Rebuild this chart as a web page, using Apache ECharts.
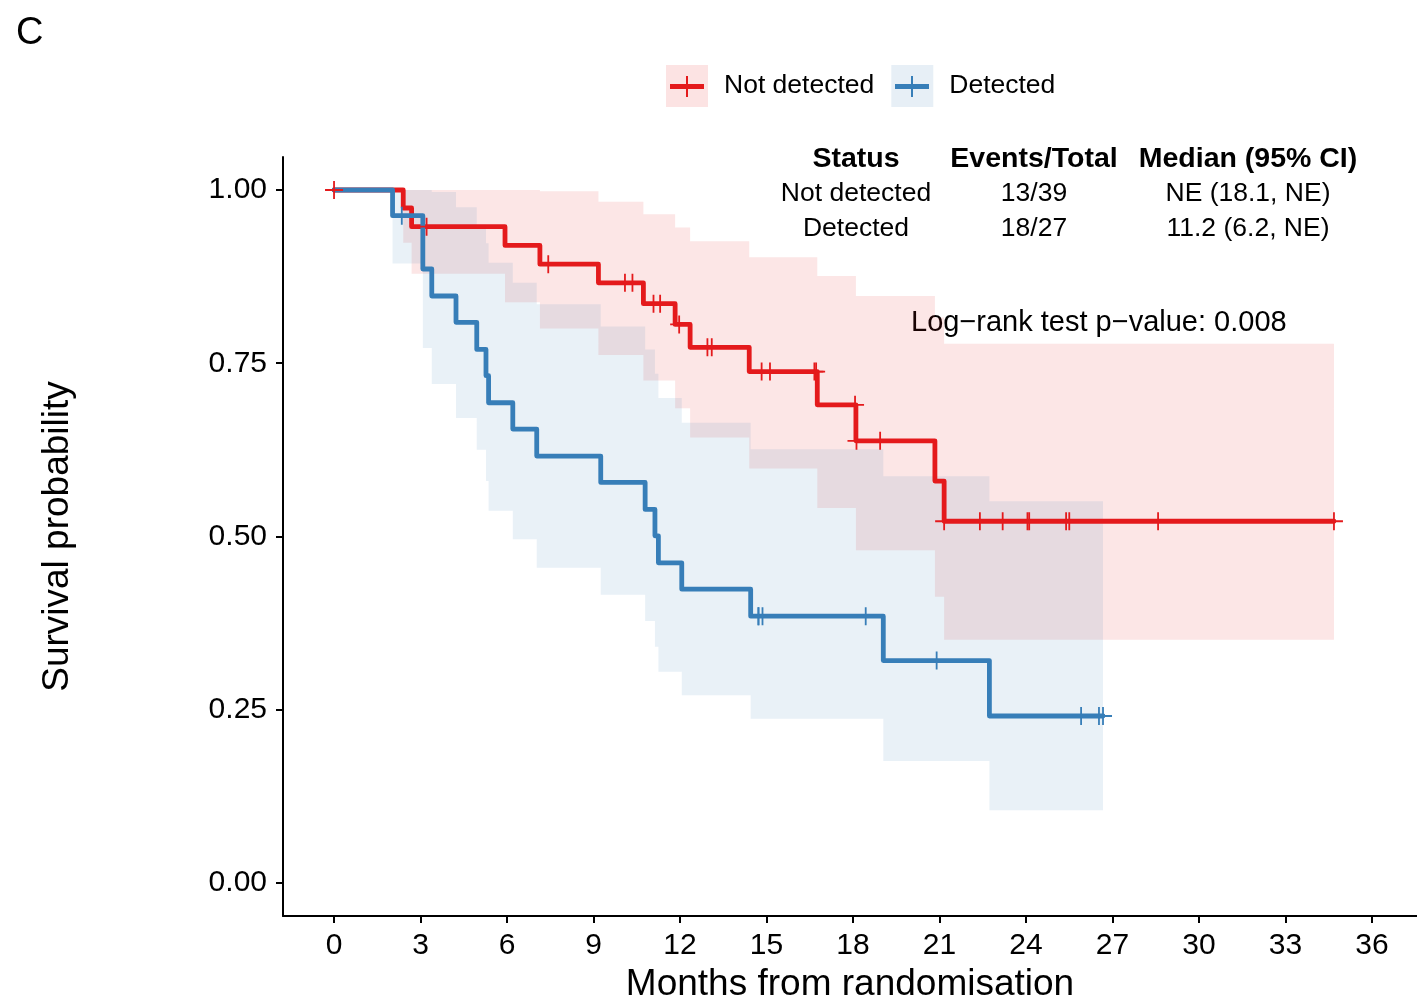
<!DOCTYPE html>
<html>
<head>
<meta charset="utf-8">
<script src="https://cdn.jsdelivr.net/npm/echarts@6/dist/echarts.min.js"></script>
<style>html,body{margin:0;padding:0;background:#fff}#chart{width:1417px;height:1000px}</style>
</head>
<body>
<div id="chart"></div>
<script>
// ---- Data ----
const xTicks = [0, 3, 6, 9, 12, 15, 18, 21, 24, 27, 30, 33, 36];
const yTicks = [0, 0.25, 0.5, 0.75, 1];

// Not detected (red)
const ndTime = [0, 2.40, 2.69, 5.93, 7.14, 9.17, 10.73, 11.83, 12.35, 14.40, 16.76, 18.10, 20.84, 21.16, 34.68];
const ndSurv = [1, 0.974, 0.947, 0.920, 0.893, 0.866, 0.836, 0.806, 0.773, 0.738, 0.690, 0.638, 0.580, 0.522, 0.522];
const ndBandTime = [2.40, 2.69, 5.93, 7.14, 9.17, 10.73, 11.83, 12.35, 14.40, 16.76, 18.10, 20.84, 21.16, 34.68];
const ndUpper = [1.000, 1.000, 1.000, 0.998, 0.983, 0.965, 0.946, 0.926, 0.903, 0.876, 0.847, 0.816, 0.778];
const ndLower = [0.924, 0.879, 0.838, 0.800, 0.762, 0.725, 0.685, 0.643, 0.598, 0.541, 0.480, 0.413, 0.351];
const ndCensorTime = [0, 3.21, 7.43, 10.09, 10.35, 11.08, 11.31, 11.97, 12.95, 13.10, 14.83, 15.12, 16.66, 16.72, 18.07, 18.12, 18.94, 21.16, 22.40, 23.19, 24.05, 24.11, 25.39, 25.50, 28.58, 34.68];
const ndCensorSurv = [1, 0.947, 0.893, 0.866, 0.866, 0.836, 0.836, 0.806, 0.773, 0.773, 0.738, 0.738, 0.738, 0.738, 0.690, 0.638, 0.638, 0.522, 0.522, 0.522, 0.522, 0.522, 0.522, 0.522, 0.522, 0.522];

// Detected (blue)
const dTime = [0, 2.03, 3.08, 3.39, 4.23, 4.95, 5.27, 5.36, 6.20, 7.03, 9.25, 10.79, 11.13, 11.25, 12.06, 14.45, 19.05, 22.73, 26.67];
const dSurv = [1, 0.963, 0.886, 0.847, 0.809, 0.770, 0.732, 0.693, 0.655, 0.616, 0.578, 0.539, 0.501, 0.462, 0.424, 0.385, 0.321, 0.241, 0.241];
const dBandTime = [2.03, 3.08, 3.39, 4.23, 4.95, 5.27, 5.36, 6.20, 7.03, 9.25, 10.79, 11.13, 11.25, 12.06, 14.45, 19.05, 22.73, 26.67];
const dUpper = [1.000, 1.000, 0.997, 0.975, 0.950, 0.923, 0.895, 0.866, 0.835, 0.803, 0.770, 0.735, 0.700, 0.664, 0.626, 0.587, 0.551];
const dLower = [0.894, 0.772, 0.720, 0.671, 0.625, 0.580, 0.537, 0.496, 0.455, 0.416, 0.378, 0.341, 0.305, 0.271, 0.237, 0.176, 0.105];
const dCensorTime = [2.35, 14.72, 14.72, 14.86, 18.44, 20.90, 25.91, 26.53, 26.67];
const dCensorSurv = [0.963, 0.385, 0.385, 0.385, 0.385, 0.321, 0.241, 0.241, 0.241];

// Table / annotation text
const tableHeader = ['Status', 'Events/Total', 'Median (95% CI)'];
const tableRows = [
  ['Not detected', '13/39', 'NE (18.1, NE)'],
  ['Detected', '18/27', '11.2 (6.2, NE)']
];
const pText = 'Log\u2212rank test p\u2212value: 0.008';

// ---- Styling ----
const FONT = '"Liberation Sans", Arial, Helvetica, sans-serif';
const RED = '#E41A1C', BLUE = '#377EB8';
const RED_FILL = 'rgba(228,26,28,0.11)', BLUE_FILL = 'rgba(55,126,184,0.11)';
const PLUS = 'path://M9,0H11V9H20V11H11V20H9V11H0V9H9Z';

function stepPoints(times, surv) {
  const pts = [[times[0], surv[0]]];
  for (let i = 1; i < times.length; i++) {
    pts.push([times[i], surv[i - 1]]);
    pts.push([times[i], surv[i]]);
  }
  return pts;
}

function bandSeries(name, times, upper, lower, color) {
  return {
    type: 'custom', name: name, silent: true, z: 1,
    data: [[times[0], upper[0]]],
    encode: { x: 0, y: 1 },
    renderItem: function (params, api) {
      const pts = [];
      for (let i = 0; i < upper.length; i++) {
        pts.push(api.coord([times[i], upper[i]]));
        pts.push(api.coord([times[i + 1], upper[i]]));
      }
      for (let i = lower.length - 1; i >= 0; i--) {
        pts.push(api.coord([times[i + 1], lower[i]]));
        pts.push(api.coord([times[i], lower[i]]));
      }
      return { type: 'polygon', shape: { points: pts }, style: { fill: color } };
    }
  };
}

function lineSeries(name, times, surv, color) {
  return {
    type: 'line', name: name, data: stepPoints(times, surv),
    symbol: 'none', showSymbol: false, silent: true, z: 3,
    lineStyle: { color: color, width: 4.8, join: 'round', cap: 'round' },
    itemStyle: { color: color }
  };
}

function censorSeries(name, times, surv, color) {
  return {
    type: 'scatter', name: name, silent: true, z: 4,
    data: times.map((t, i) => [t, surv[i]]),
    symbol: PLUS, symbolSize: 18,
    itemStyle: { color: color, opacity: 1 }
  };
}

const graphics = [];
// panel letter
graphics.push({ type: 'text', x: 16, y: 34, style: { text: 'C', font: '38px ' + FONT, fill: '#000', align: 'left', verticalAlign: 'middle' } });
// legend key glyphs (line + censor cross) over the legend boxes
[[687, RED], [912, BLUE]].forEach(([cx, col]) => {
  graphics.push({ type: 'line', z: 10, shape: { x1: cx - 17, y1: 86.5, x2: cx + 17, y2: 86.5 }, style: { stroke: col, lineWidth: 4.8 } });
  graphics.push({ type: 'line', z: 10, shape: { x1: cx, y1: 76, x2: cx, y2: 97 }, style: { stroke: col, lineWidth: 2 } });
});
// table
const colX = [856, 1034, 1248];
tableHeader.forEach((h, j) => graphics.push({ type: 'text', x: colX[j], y: 159, style: { text: h, font: 'bold 28.5px ' + FONT, fill: '#000', align: 'center', verticalAlign: 'middle' } }));
tableRows.forEach((row, i) => row.forEach((c, j) => graphics.push({ type: 'text', x: colX[j], y: 194 + i * 35, style: { text: c, font: '26.5px ' + FONT, fill: '#000', align: 'center', verticalAlign: 'middle' } })));
graphics.push({ type: 'text', x: 911, y: 323, style: { text: pText, font: '29px ' + FONT, fill: '#000', align: 'left', verticalAlign: 'middle' } });

const axisCommon = {
  type: 'value',
  axisLine: { show: true, onZero: false, lineStyle: { color: '#000', width: 2 } },
  axisTick: { show: true, length: 7, lineStyle: { color: '#000', width: 2 } },
  splitLine: { show: false },
  nameLocation: 'middle',
  nameTextStyle: { fontFamily: FONT, fontSize: 37, color: '#000' }
};

const option = {
  animation: false,
  backgroundColor: '#fff',
  grid: { left: 283, right: 0, top: 157, bottom: 84, containLabel: false, outerBoundsMode: 'none' },
  legend: {
    left: 666, top: 65, padding: 0, itemWidth: 42, itemHeight: 42, itemGap: 17, selectedMode: false,
    data: [
      { name: 'Not detected', icon: 'rect', itemStyle: { color: 'rgba(228,26,28,0.12)' } },
      { name: 'Detected', icon: 'rect', itemStyle: { color: 'rgba(55,126,184,0.12)' } }
    ],
    textStyle: { fontFamily: FONT, fontSize: 26.5, color: '#000', padding: [2, 0, 0, 11] }
  },
  xAxis: Object.assign({}, axisCommon, {
    min: -1.77, max: 37.56,
    name: 'Months from randomisation', nameGap: 50,
    axisTick: Object.assign({}, axisCommon.axisTick, { customValues: xTicks }),
    axisLabel: { customValues: xTicks, fontFamily: FONT, fontSize: 30, color: '#000', margin: 15 }
  }),
  yAxis: Object.assign({}, axisCommon, {
    min: -0.0476, max: 1.0476,
    name: 'Survival probability', nameGap: 207,
    axisTick: Object.assign({}, axisCommon.axisTick, { customValues: yTicks }),
    axisLabel: { customValues: yTicks, fontFamily: FONT, fontSize: 30, color: '#000', margin: 16, formatter: v => v.toFixed(2) }
  }),
  graphic: graphics,
  series: [
    bandSeries('Not detected CI', ndBandTime, ndUpper, ndLower, RED_FILL),
    bandSeries('Detected CI', dBandTime, dUpper, dLower, BLUE_FILL),
    lineSeries('Not detected', ndTime, ndSurv, RED),
    lineSeries('Detected', dTime, dSurv, BLUE),
    censorSeries('Not detected censored', ndCensorTime, ndCensorSurv, RED),
    censorSeries('Detected censored', dCensorTime, dCensorSurv, BLUE)
  ]
};

const chart = echarts.init(document.getElementById('chart'), null, { renderer: 'canvas' });
chart.setOption(option);
</script>
</body>
</html>
